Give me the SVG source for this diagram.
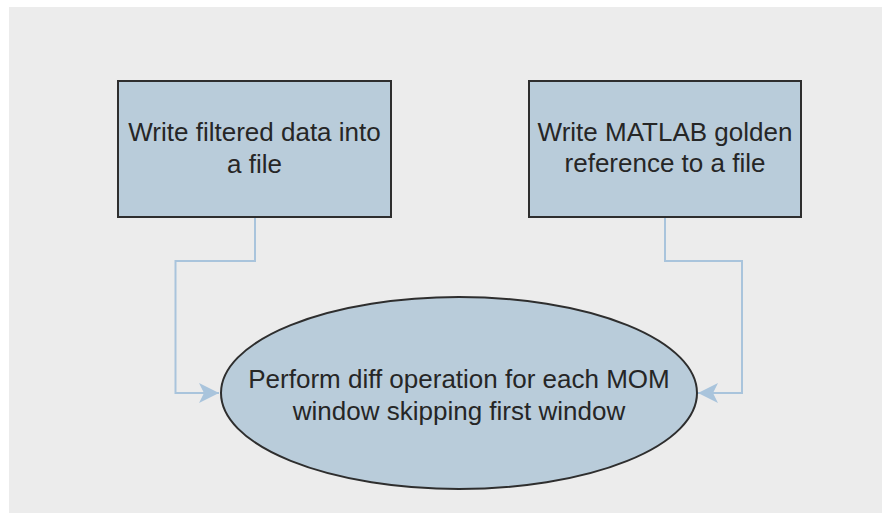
<svg xmlns="http://www.w3.org/2000/svg" width="882" height="513" viewBox="0 0 882 513">
  <style>
    .node { fill: #b9ccda; stroke: #2e2e2e; stroke-width: 2; }
    .label { font-family: "Liberation Sans", Arial, sans-serif; font-size: 26px; fill: #262626; text-anchor: middle; }
    .edge { fill: none; stroke: #a9c4dc; stroke-width: 2; }
  </style>
  <defs>
    <marker id="arrow" markerUnits="userSpaceOnUse" markerWidth="22" markerHeight="22" viewBox="-21 -11 22 22" refX="0" refY="0" orient="auto">
      <path d="M0,0 L-20,-10 L-15,0 L-20,10 Z" fill="#a9c4dc"/>
    </marker>
  </defs>

  <!-- canvas -->
  <rect x="0" y="0" width="882" height="513" fill="#ffffff"/>
  <rect x="9" y="7" width="873" height="506" fill="#ececec"/>

  <!-- connectors -->
  <g id="connectors">
    <path class="edge" d="M255,217 V261 H175.5 V393 H219" marker-end="url(#arrow)"/>
    <path class="edge" d="M665,217 V261 H742 V393 H698" marker-end="url(#arrow)"/>
  </g>

  <g id="write-filtered">
    <rect class="node" x="118" y="81" width="273" height="136"/>
    <text class="label" x="254.5" y="141">Write filtered data into</text>
    <text class="label" x="254.5" y="173">a file</text>
  </g>

  <g id="write-golden">
    <rect class="node" x="529" y="81" width="272" height="136"/>
    <text class="label" x="665" y="141">Write MATLAB golden</text>
    <text class="label" x="665" y="172">reference to a file</text>
  </g>

  <g id="diff-operation">
    <ellipse class="node" cx="459" cy="393" rx="238" ry="96"/>
    <text class="label" x="459" y="388">Perform diff operation for each MOM</text>
    <text class="label" x="459" y="420">window skipping first window</text>
  </g>
</svg>
